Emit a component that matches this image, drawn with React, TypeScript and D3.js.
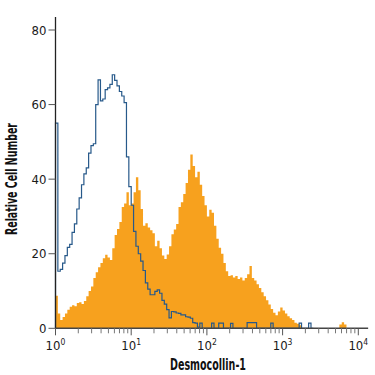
import React from "react";
import * as d3 from "d3";

// Histogram bins: 32 bins per decade, starting at 10^0
const BINS_PER_DECADE = 32;

const orangeCounts = [
  8.7, 4, 2.2, 3, 4, 5, 5.8, 6.2, 5.9, 6.8, 7, 6.5, 7.3, 8.6, 10, 11.2, 13.5, 15, 16.4, 17.5,
  18.8, 19.7, 19, 18.3, 21.5, 25, 26.6, 28.5, 32.5, 33.5, 36.5, 33, 33.5, 36.5, 40.5, 37, 32, 27.5, 28.2, 27,
  26.3, 25.5, 22, 23.5, 21.5, 19.5, 18.6, 19.8, 22, 25.2, 26.5, 28, 32.5, 33.8, 36, 39, 42.5, 46.6, 43.5, 40.5,
  42, 38.5, 35.5, 33, 30, 31.8, 31, 27.5, 24, 21.6, 20, 17.5, 15.3, 14, 14.2, 13.6, 14, 13.2, 13.6, 12.8,
  13.5, 14.5, 16.7, 13.5, 12.8, 11.8, 10.8, 9.7, 8.6, 7.5, 6.4, 5.2, 4.2, 3.5, 4.5, 5.6, 4.8, 4, 3.2, 2.7,
  2.2, 1.5, 1.2, 0.8, 0, 0, 0, 0, 0, 0, 0, 0, 0, 0, 0, 0, 0, 0, 0, 0,
  1, 1.6, 1, 0,
];

const blueCounts = [
  55, 15.3, 15.8, 17.5, 19.5, 21.7, 22.5, 25.7, 28, 32, 35, 38.5, 41.4, 43, 47, 49, 49.5, 60, 66.6, 61,
  61.5, 64, 64.5, 65.4, 68, 66.5, 65, 63.5, 62.3, 60.5, 46, 38, 33, 26, 22, 20, 18, 15.5, 12.2, 10.5,
  9, 9, 9.9, 10.3, 9.4, 7.5, 6.5, 5, 2.8, 4.5, 4.4, 4.1, 4, 3.6, 3.6, 3.1, 3.0, 2.7, 1.5, 1.4,
  0.3, 1.4, 0, 0, 0, 0, 1.4, 0, 0, 1.4, 1.4, 0, 0, 0, 1.3, 0, 0, 0, 0, 0,
  0, 1.5, 1.5, 1.5, 1.5, 0, 0, 0, 0, 0, 0, 1.4, 0, 0, 0, 0, 0, 0, 0, 0,
  0, 0, 0, 1.4, 0, 0, 0, 1.4, 0,
];

const xDecades = [0, 1, 2, 3, 4];
const yTicks = [0, 20, 40, 60, 80];
const xLabel = "Desmocollin-1";
const yLabel = "Relative Cell Number";

const FONT = "'Liberation Sans Narrow', 'DejaVu Sans Condensed', sans-serif";

export default function App() {
  const W = 375;
  const H = 375;
  const x = d3.scaleLog().domain([1, 1e4]).range([55.5, 358.3]);
  const y = d3.scaleLinear().domain([0, 80]).range([328.3, 30]);
  const xMax = Math.pow(10, 4.13);

  const edge = (i: number) => x(Math.pow(10, i / BINS_PER_DECADE));

  const orangePts: [number, number][] = orangeCounts.map((v, i) => [edge(i), y(v)]);
  orangePts.push([edge(orangeCounts.length), y(0)]);
  const area = d3
    .area<[number, number]>()
    .x((d) => d[0])
    .y0(y(0))
    .y1((d) => d[1])
    .curve(d3.curveStepAfter);

  const bluePts: [number, number][] = [[edge(0), y(0)]];
  blueCounts.forEach((v, i) => bluePts.push([edge(i), y(v)]));
  bluePts.push([edge(blueCounts.length), y(0)]);
  const line = d3
    .line<[number, number]>()
    .x((d) => d[0])
    .y((d) => d[1])
    .curve(d3.curveStepAfter);

  const minorTicks: number[] = [];
  for (let dec = 0; dec < 5; dec++) {
    for (let m = 2; m <= 9; m++) {
      const v = m * Math.pow(10, dec);
      if (v < xMax) minorTicks.push(v);
    }
  }

  const axisY = y(0);
  return (
    <svg width={W} height={H} style={{ position: "absolute", left: 0, top: 0, background: "#fff" }}>
      <path d={area(orangePts) || ""} fill="#f7a11e" />
      <path d={line(bluePts) || ""} fill="none" stroke="#27598a" strokeWidth={1.2} />
      {/* axes */}
      <line x1={x(1)} x2={x(1)} y1={17} y2={axisY} stroke="#222" strokeWidth={1.3} />
      <line x1={x(1)} x2={x(xMax)} y1={axisY} y2={axisY} stroke="#444" strokeWidth={1.5} />
      {yTicks.map((t) => (
        <g key={"y" + t}>
          <line x1={x(1) - 7} x2={x(1)} y1={y(t)} y2={y(t)} stroke="#555" strokeWidth={1} />
          <text
            x={x(1) - 9}
            y={y(t)}
            dy="0.35em"
            textAnchor="end"
            fontFamily={FONT}
            fontSize={13}
            fill="#1a1a1a"
          >
            {t}
          </text>
        </g>
      ))}
      {minorTicks.map((t) => (
        <line key={"m" + t} x1={x(t)} x2={x(t)} y1={axisY} y2={axisY + 5} stroke="#777" strokeWidth={1} />
      ))}
      {xDecades.map((d) => (
        <g key={"x" + d}>
          <line x1={x(Math.pow(10, d))} x2={x(Math.pow(10, d))} y1={axisY} y2={axisY + 7} stroke="#555" strokeWidth={1} />
          <text x={x(Math.pow(10, d))} y={349.5} textAnchor="middle" fontFamily={FONT} fontSize={13} fill="#1a1a1a">
            <tspan>10</tspan>
            <tspan dy={-5} fontSize={8.5}>
              {d}
            </tspan>
          </text>
        </g>
      ))}
      <text
        x={208}
        y={369.5}
        textAnchor="middle"
        fontFamily={FONT}
        fontWeight="bold"
        fontSize={16.5}
        fill="#111"
        textLength={76}
        lengthAdjust="spacingAndGlyphs"
      >
        {xLabel}
      </text>
      <text
        transform={`translate(16.5,179) rotate(-90)`}
        textAnchor="middle"
        fontFamily={FONT}
        fontWeight="bold"
        fontSize={16.5}
        fill="#111"
        textLength={112}
        lengthAdjust="spacingAndGlyphs"
      >
        {yLabel}
      </text>
    </svg>
  );
}
